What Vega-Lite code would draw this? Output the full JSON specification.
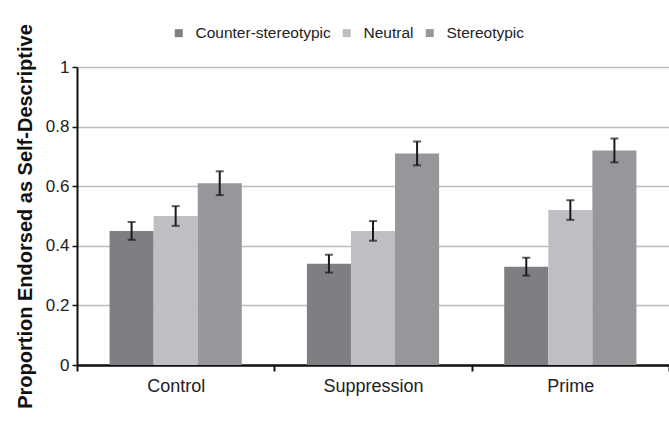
{
  "$schema": "https://vega.github.io/schema/vega-lite/v6.json",
  "autosize": {"type": "none"},
  "width": 592,
  "height": 298,
  "padding": {"left": 77, "top": 67, "right": 0, "bottom": 56},
  "background": "white",
  "config": {
    "view": {"stroke": null},
    "font": "Liberation Sans"
  },
  "data": {
    "values": [
      {"condition": "Control", "type": "Counter-stereotypic", "p": 0.45, "lo": 0.42, "hi": 0.48},
      {"condition": "Control", "type": "Neutral", "p": 0.50, "lo": 0.467, "hi": 0.533},
      {"condition": "Control", "type": "Stereotypic", "p": 0.61, "lo": 0.57, "hi": 0.65},
      {"condition": "Suppression", "type": "Counter-stereotypic", "p": 0.34, "lo": 0.31, "hi": 0.37},
      {"condition": "Suppression", "type": "Neutral", "p": 0.45, "lo": 0.417, "hi": 0.483},
      {"condition": "Suppression", "type": "Stereotypic", "p": 0.71, "lo": 0.67, "hi": 0.75},
      {"condition": "Prime", "type": "Counter-stereotypic", "p": 0.33, "lo": 0.30, "hi": 0.36},
      {"condition": "Prime", "type": "Neutral", "p": 0.52, "lo": 0.487, "hi": 0.553},
      {"condition": "Prime", "type": "Stereotypic", "p": 0.72, "lo": 0.68, "hi": 0.76}
    ]
  },
  "encoding": {
    "x": {
      "field": "condition",
      "type": "nominal",
      "sort": ["Control", "Suppression", "Prime"],
      "scale": {"paddingInner": 0, "paddingOuter": 0},
      "axis": {
        "title": null,
        "labelAngle": 0,
        "labelFontSize": 18,
        "labelColor": "#222222",
        "labelPadding": 6,
        "domainColor": "#111111",
        "domainWidth": 2.5,
        "tickBand": "extent",
        "tickColor": "#111111",
        "tickWidth": 2,
        "tickSize": 6,
        "grid": false
      }
    },
    "xOffset": {
      "field": "type",
      "type": "nominal",
      "sort": ["Counter-stereotypic", "Neutral", "Stereotypic"],
      "scale": {"paddingInner": 0, "paddingOuter": 0.739}
    }
  },
  "layer": [
    {
      "mark": {"type": "bar"},
      "encoding": {
        "y": {
          "field": "p",
          "type": "quantitative",
          "scale": {"domain": [0, 1]},
          "axis": {
            "title": "Proportion Endorsed as Self-Descriptive",
            "titleFontSize": 20,
            "titleFontWeight": "bold",
            "titleColor": "#111111",
            "titleAngle": 270,
            "titleBaseline": "middle",
            "titleAlign": "center",
            "titleX": -52,
            "titleY": 149,
            "values": [0, 0.2, 0.4, 0.6, 0.8, 1],
            "format": "~g",
            "labelFontSize": 17,
            "labelColor": "#222222",
            "labelPadding": 3,
            "domainColor": "#111111",
            "domainWidth": 2,
            "tickColor": "#111111",
            "tickWidth": 1.5,
            "tickSize": 5,
            "grid": true,
            "gridColor": "#bdbdbd",
            "gridWidth": 1.5
          }
        },
        "color": {
          "field": "type",
          "type": "nominal",
          "sort": ["Counter-stereotypic", "Neutral", "Stereotypic"],
          "scale": {"range": ["#7e7f83", "#bebfc3", "#96979b"]},
          "legend": {
            "title": null,
            "orient": "none",
            "direction": "horizontal",
            "legendX": 94,
            "legendY": -42,
            "padding": 0,
            "symbolType": "square",
            "symbolSize": 64,
            "symbolStrokeWidth": 0,
            "labelFontSize": 15.5,
            "labelColor": "#222222",
            "labelOffset": 9,
            "columnPadding": 8
          }
        }
      }
    },
    {
      "mark": {"type": "rule", "color": "#1a1a1a", "strokeWidth": 2},
      "encoding": {
        "y": {"field": "lo", "type": "quantitative"},
        "y2": {"field": "hi"}
      }
    },
    {
      "mark": {"type": "tick", "color": "#1a1a1a", "size": 8, "thickness": 2, "orient": "horizontal"},
      "encoding": {
        "y": {"field": "lo", "type": "quantitative"}
      }
    },
    {
      "mark": {"type": "tick", "color": "#1a1a1a", "size": 8, "thickness": 2, "orient": "horizontal"},
      "encoding": {
        "y": {"field": "hi", "type": "quantitative"}
      }
    }
  ]
}
